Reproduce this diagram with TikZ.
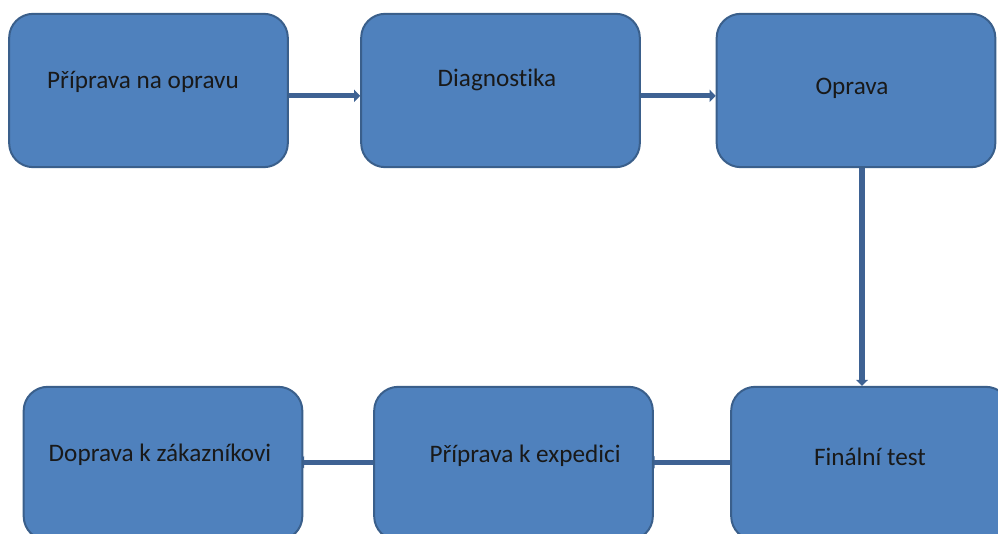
\documentclass[tikz,border=0pt]{standalone}
\usepackage{fontspec}
\setmainfont[Ligatures=NoCommon]{Carlito}
\usetikzlibrary{arrows.meta,backgrounds}

\definecolor{boxfill}{HTML}{4F81BD}
\definecolor{boxline}{HTML}{3A5F8B}
\definecolor{flowline}{HTML}{3E6293}

\tikzset{
  krok/.style={draw=boxline,fill=boxfill,line width=1.5pt,rounded corners=18pt,
    minimum width=209pt,minimum height=115pt,inner sep=0pt},
  popis/.style={font=\fontsize{18.9}{21}\selectfont,text=black!90,inner sep=0pt},
  tok/.style={draw=flowline,line width=4pt,-{Triangle[width=9pt,length=4.5pt]}}
}

\begin{document}
\begin{tikzpicture}[x=0.75pt,y=-0.75pt]  % souradnice v pixelech

    % Okraje obrazku
    \useasboundingbox (0,0) rectangle (998,534);
    \clip (0,0) rectangle (998,534);

    % ---- Bloky ----
    \node[krok] (priprava)  at (148.5,90.5) {};
    \node[krok] (diagnoza)  at (500.5,90.5) {};
    \node[krok] (oprava)    at (856,90.5) {};
    \node[krok] (test)      at (870.5,463.5) {};
    \node[krok] (expedice)  at (513.5,463.5) {};
    \node[krok] (doprava)   at (163,463.5) {};

    % ---- Popisky ----
    \node[popis] (tpriprava) at (143,82)  {Příprava na opravu};
    \node[popis] (tdiagnoza) at (497,80)  {Diagnostika};
    \node[popis] (toprava)   at (852,88)  {Oprava};
    \node[popis] (ttest)     at (870,457) {Finální test};
    \node[popis] (texpedice) at (525,456) {Příprava k expedici};
    \node[popis] (tdoprava)  at (160,455) {Doprava k zákazníkovi};

    % ---- Sipky (pod bloky) ----
    \begin{scope}[on background layer]
      \draw[tok] ([yshift=-4pt]priprava.east) -- ([yshift=-4pt]diagnoza.west);
      \draw[tok] ([yshift=-4pt]diagnoza.east) -- ([yshift=-4pt]oprava.west);
      \draw[tok] ([xshift=4.5pt]oprava.south) -- ([xshift=4.5pt]oprava.south |- test.north);
      % spodni rada: hroty schovane pod okrajem bloku
      \draw[tok,shorten >=-4pt] ([yshift=1pt]test.west) -- ([yshift=1pt]expedice.east);
      \draw[tok,shorten >=-4pt] ([yshift=1pt]expedice.west) -- ([yshift=1pt]doprava.east);
    \end{scope}

\end{tikzpicture}
\end{document}
